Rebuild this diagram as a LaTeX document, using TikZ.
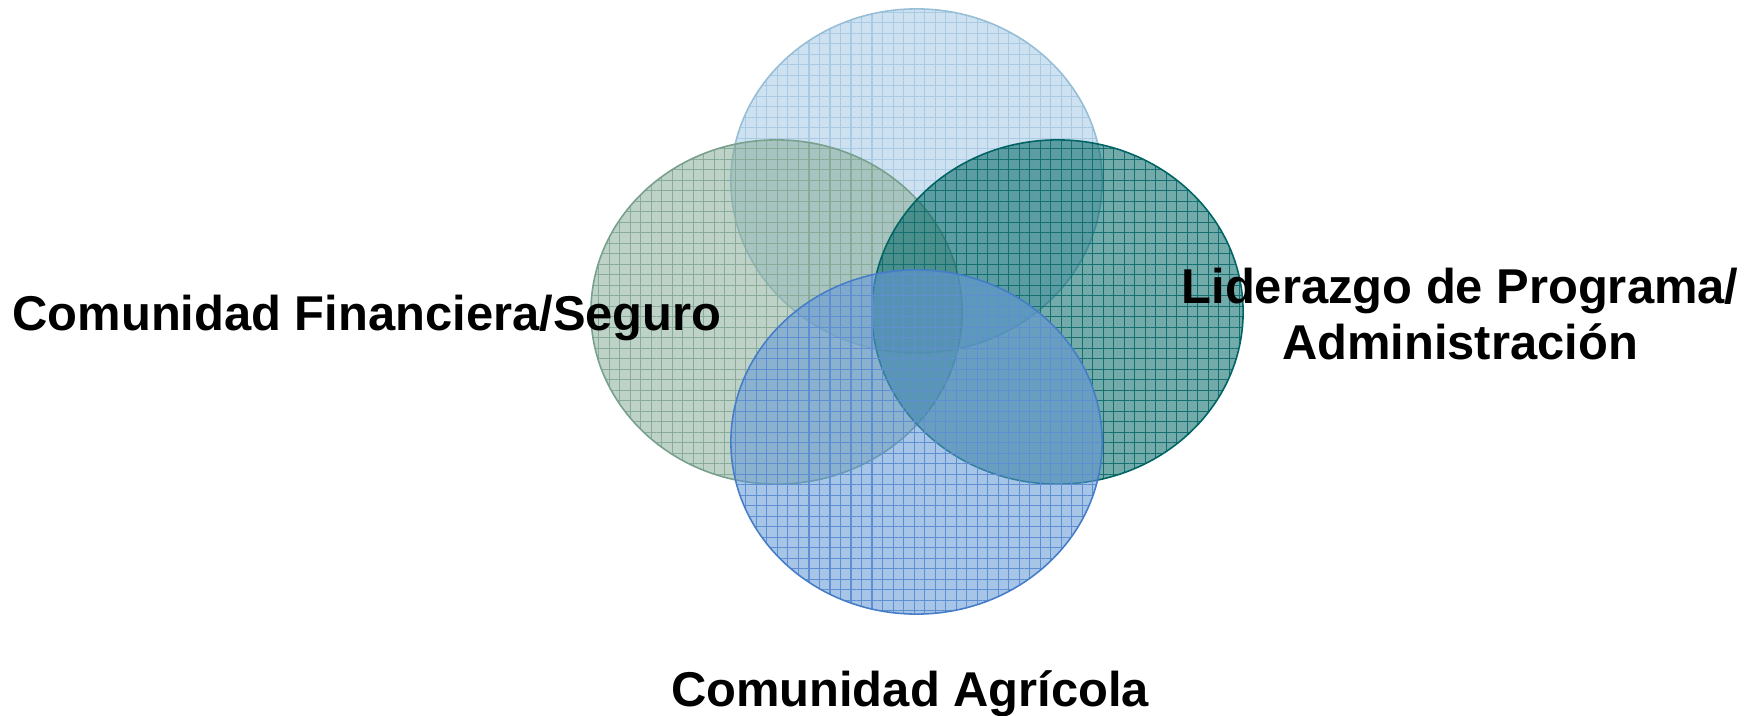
\documentclass[tikz,border=0pt]{standalone}
\usepackage{fontspec}
\setmainfont{Liberation Sans}
\usetikzlibrary{patterns.meta}

\definecolor{topfill}{RGB}{164,200,228}
\definecolor{topgrid}{RGB}{168,202,226}
\definecolor{topline}{RGB}{150,190,215}
\definecolor{leftfill}{RGB}{137,173,155}
\definecolor{leftgrid}{RGB}{135,172,153}
\definecolor{leftline}{RGB}{120,160,140}
\definecolor{rightfill}{RGB}{0,100,100}
\definecolor{rightgrid}{RGB}{20,112,112}
\definecolor{rightline}{RGB}{0,100,100}
\definecolor{botfill}{RGB}{95,150,212}
\definecolor{botgrid}{RGB}{95,143,210}
\definecolor{botline}{RGB}{70,125,200}

\begin{document}
\begin{tikzpicture}[x=0.01cm, y=-0.01cm,
    venn/.style={draw=#1line, line width=0.45pt, draw opacity=1,
      preaction={fill=#1fill, fill opacity=0.55},
      fill opacity=1,
      pattern={Hatch[distance=1.05mm, line width=0.3pt]}, pattern color=#1grid},
    caption/.style={font=\fontsize{13.9}{15.9}\selectfont\bfseries, align=center, inner sep=0pt}]
    \useasboundingbox (0,0) rectangle (1758,716);

    % Sets
    \draw[venn=top] (916.5,181) ellipse [x radius=1.855cm, y radius=1.72cm];
    \draw[venn=left] (776.5,312) ellipse [x radius=1.855cm, y radius=1.72cm];
    \draw[venn=right] (1057.5,312) ellipse [x radius=1.855cm, y radius=1.72cm];
    \draw[venn=bot] (916.5,442) ellipse [x radius=1.855cm, y radius=1.72cm];

    % Labels
    \node[caption, anchor=base] (finance) at (367,331) {Comunidad Financiera/Seguro};
    \node[caption, anchor=base] (farm) at (910,706) {Comunidad Agrícola};
    \node[caption, anchor=north] (leader) at (1460,267) {Liderazgo de Programa/\\Administración};
\end{tikzpicture}
\end{document}
